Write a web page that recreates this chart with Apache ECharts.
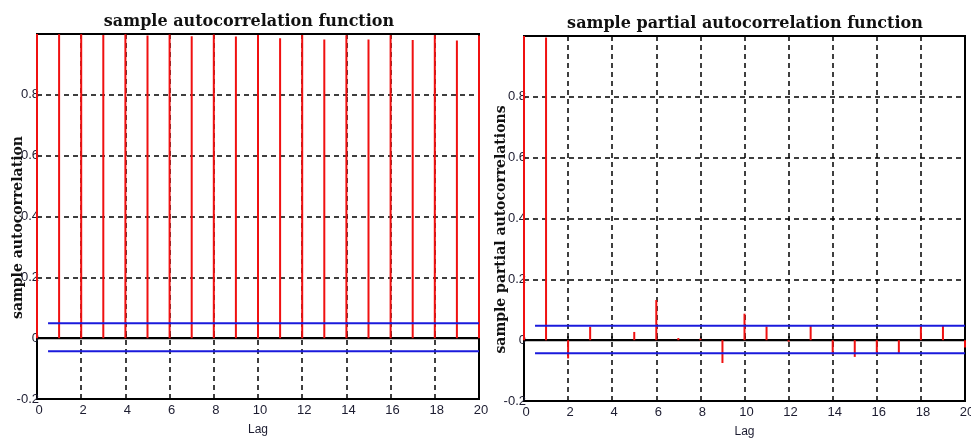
<!DOCTYPE html>
<html>
<head>
<meta charset="utf-8">
<script src="https://cdn.jsdelivr.net/npm/echarts@6/dist/echarts.min.js"></script>
<style>
  html, body { margin: 0; padding: 0; background: #fff; }
  #chart { width: 971px; height: 438px; }
</style>
</head>
<body>
<div id="chart"></div>
<script>
// Lags 0..20
const lags = [0,1,2,3,4,5,6,7,8,9,10,11,12,13,14,15,16,17,18,19,20];

// Sample autocorrelation
const acfValues = [1.000, 0.999, 0.999, 0.997, 0.999, 0.995, 0.998, 0.993, 0.998, 0.992,
                   0.997, 0.986, 0.997, 0.982, 0.996, 0.982, 0.996, 0.980, 0.996, 0.979, 0.995];

// Sample partial autocorrelation
const pacfValues = [1.000, 0.995, -0.060, 0.044, 0.000, 0.027, 0.132, 0.007, 0.005, -0.075,
                    0.087, 0.045, -0.005, 0.047, -0.047, -0.055, -0.046, -0.042, 0.047, 0.047, -0.024];

// Approximate confidence bounds [upper, lower], drawn from lag 0.5 to lag 20
const acfBounds = [0.049, -0.043];
const pacfBounds = [0.047, -0.043];
const boundLags = [0.5, 20];

// Axis ticks
const yTicks = [-0.2, 0, 0.2, 0.4, 0.6, 0.8, 1.0];
const xTicks = [0, 2, 4, 6, 8, 10, 12, 14, 16, 18, 20];

const titles = ['sample autocorrelation function', 'sample partial autocorrelation function'];
const yNames = ['sample autocorrelation', 'sample partial autocorrelations'];
const xName = 'Lag';

const chart = echarts.init(document.getElementById('chart'));

const dashed = { color: '#000', width: 1.5, type: [5, 4] };
const labelFont = { fontFamily: 'Liberation Sans', fontSize: 13, color: '#1c1c30' };

function stemSeries(idx, values) {
  return {
    type: 'custom',
    xAxisIndex: idx, yAxisIndex: idx,
    z: 5,
    data: lags.map((l, i) => [l, values[i]]),
    renderItem: function (params, api) {
      const base = api.coord([api.value(0), 0]);
      const tip = api.coord([api.value(0), api.value(1)]);
      return {
        type: 'line',
        shape: { x1: base[0], y1: base[1], x2: tip[0], y2: tip[1] },
        style: { stroke: '#f01010', lineWidth: 2 }
      };
    }
  };
}

function zeroLine(idx) {
  return {
    type: 'line', xAxisIndex: idx, yAxisIndex: idx, z: 4,
    symbol: 'none', silent: true,
    data: [[xTicks[0], 0], [xTicks[xTicks.length - 1], 0]],
    lineStyle: { color: '#000', width: 2 }
  };
}

function boundSeries(idx, val) {
  return {
    type: 'line', xAxisIndex: idx, yAxisIndex: idx, z: 6,
    symbol: 'none', silent: true,
    data: boundLags.map(l => [l, val]),
    lineStyle: { color: '#1a1adc', width: 2 }
  };
}

function xAxis(idx) {
  return {
    type: 'value', gridIndex: idx,
    min: xTicks[0], max: xTicks[xTicks.length - 1], interval: 2,
    axisLine: { show: true, lineStyle: { color: '#000', width: 2 } },
    axisTick: { show: true, inside: true, length: 4, lineStyle: { color: '#000', width: 1.5 } },
    axisLabel: Object.assign({ margin: 5, padding: [0, 0, 0, 4] }, labelFont),
    splitLine: { show: true, lineStyle: dashed },
    name: xName, nameLocation: 'middle', nameGap: 25, nameMoveOverlap: false,
    nameTextStyle: { fontFamily: 'Liberation Sans', fontSize: 12, color: '#1c1c30' }
  };
}

function yAxis(idx) {
  return {
    type: 'value', gridIndex: idx,
    min: yTicks[0], max: yTicks[yTicks.length - 1], interval: 0.2,
    axisLine: { show: true, lineStyle: { color: '#000', width: 2 } },
    axisTick: { show: false },
    axisLabel: Object.assign({
      margin: -2,
      formatter: v => (Math.abs(v - 1) < 1e-9 ? '' : (Math.abs(v) < 1e-9 ? '0' : v.toFixed(1)))
    }, labelFont),
    splitLine: { show: true, lineStyle: dashed },
    name: yNames[idx], nameLocation: 'middle', nameGap: idx === 0 ? 12 : 16, nameRotate: 90,
    nameMoveOverlap: false,
    nameTextStyle: { fontFamily: 'DejaVu Serif', fontWeight: 'bold', fontSize: 14, color: '#111',
                     padding: [0, 0, 0, -22] }
  };
}

chart.setOption({
  animation: false,
  backgroundColor: '#fff',
  title: [
    { text: titles[0], left: 244, top: 9, textAlign: 'center',
      textStyle: { fontFamily: 'DejaVu Serif', fontWeight: 'bold', fontSize: 16, color: '#111' } },
    { text: titles[1], left: 740, top: 11, textAlign: 'center',
      textStyle: { fontFamily: 'DejaVu Serif', fontWeight: 'bold', fontSize: 16, color: '#111' } }
  ],
  grid: [
    { left: 37, top: 34, width: 442, height: 365, show: true, borderColor: '#000', borderWidth: 2,
      backgroundColor: 'transparent', outerBoundsMode: 'none', containLabel: false },
    { left: 524, top: 36, width: 441, height: 365, show: true, borderColor: '#000', borderWidth: 2,
      backgroundColor: 'transparent', outerBoundsMode: 'none', containLabel: false }
  ],
  xAxis: [xAxis(0), xAxis(1)],
  yAxis: [yAxis(0), yAxis(1)],
  series: [
    zeroLine(0), zeroLine(1),
    stemSeries(0, acfValues), stemSeries(1, pacfValues),
    boundSeries(0, acfBounds[0]), boundSeries(0, acfBounds[1]),
    boundSeries(1, pacfBounds[0]), boundSeries(1, pacfBounds[1])
  ]
});
</script>
</body>
</html>
